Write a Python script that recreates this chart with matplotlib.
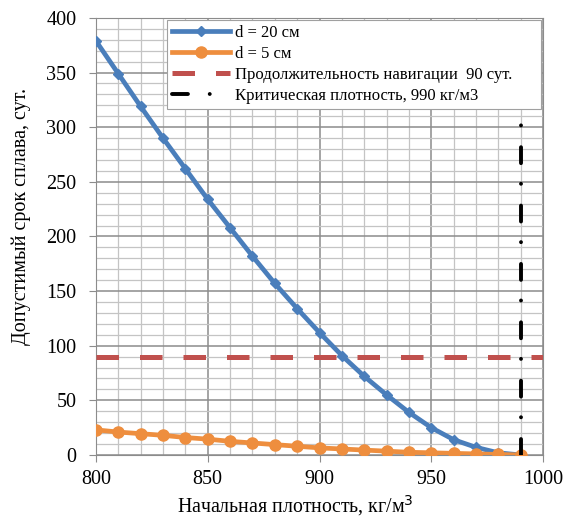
import matplotlib.pyplot as plt
from matplotlib.ticker import MultipleLocator

# density values, kg/m3
density = [800, 810, 820, 830, 840, 850, 860, 870, 880, 890,
           900, 910, 920, 930, 940, 950, 960, 970, 980, 990]
# allowed rafting time, days
d20 = [379, 349, 319, 290, 262, 234, 208, 182, 157, 134,
       112, 91, 72, 55, 39, 25, 14, 7, 2, 0]
d5 = [23, 21, 19.5, 18, 16, 14.5, 12.5, 11, 9.5, 8,
      6.5, 5.5, 4.5, 3.5, 2.5, 2, 1.5, 1, 0.5, 0]
nav_days = 90
crit_density = 990
x_range = [800, 1000]

labels = ['d = 20 см', 'd = 5 см',
          'Продолжительность навигации  90 сут.',
          'Критическая плотность, 990 кг/м3']

plt.rcParams['font.family'] = ['Liberation Serif', 'DejaVu Serif']

fig = plt.figure(figsize=(5.64, 5.26), dpi=100)
ax = fig.add_axes([0.170, 0.135, 0.793, 0.831])

ax.plot(density, d20, color='#4A7EBB', lw=3.4, marker='D', ms=5,
        label=labels[0], zorder=4)
ax.plot(density, d5, color='#EE8E3E', lw=3.4, marker='o', ms=8,
        label=labels[1], zorder=5)
ax.plot(x_range, [nav_days, nav_days], color='#C0504D', lw=3.6,
        dashes=(4.5, 4.2), label=labels[2], zorder=3)
ax.plot([crit_density, crit_density], [0, 400], color='black', lw=2.8,
        dashes=(4.1, 5.6, 0.01, 5.3), dash_capstyle='round',
        label=labels[3], zorder=6)

ax.set_xlim(800, 1000)
ax.set_ylim(0, 400)
ax.xaxis.set_major_locator(MultipleLocator(50))
ax.xaxis.set_minor_locator(MultipleLocator(10))
ax.yaxis.set_major_locator(MultipleLocator(50))
ax.yaxis.set_minor_locator(MultipleLocator(10))
ax.grid(which='major', color='#8C8C8C', lw=1.1)
ax.grid(which='minor', color='#C4C4C4', lw=0.9)
ax.set_axisbelow(True)
ax.tick_params(which='major', direction='out', length=5, color='#8C8C8C',
               labelsize=14.5)
ax.tick_params(axis='x', which='major', pad=6)
ax.tick_params(axis='y', which='major', pad=9)
ax.tick_params(which='minor', length=0)
for s in ax.spines.values():
    s.set_color('#8C8C8C')

ax.set_xlabel('Начальная плотность, кг/м$^3$', fontsize=14.3)
ax.set_ylabel('Допустимый срок сплава, сут.', fontsize=14.5)
ax.xaxis.set_label_coords(0.445, -0.087)
ax.yaxis.set_label_coords(-0.145, 0.545)

leg = ax.legend(loc='upper left', bbox_to_anchor=(0.159, 0.796, 0.837, 0.199),
                mode='expand', fontsize=12, handlelength=3.5,
                handletextpad=0.3, labelspacing=0.3, borderpad=0.3,
                fancybox=False, framealpha=1, edgecolor='#A0A0A0',
                borderaxespad=0)
leg.get_frame().set_linewidth(0.8)
leg.set_zorder(10)

fig.savefig('out.png', dpi=100)
